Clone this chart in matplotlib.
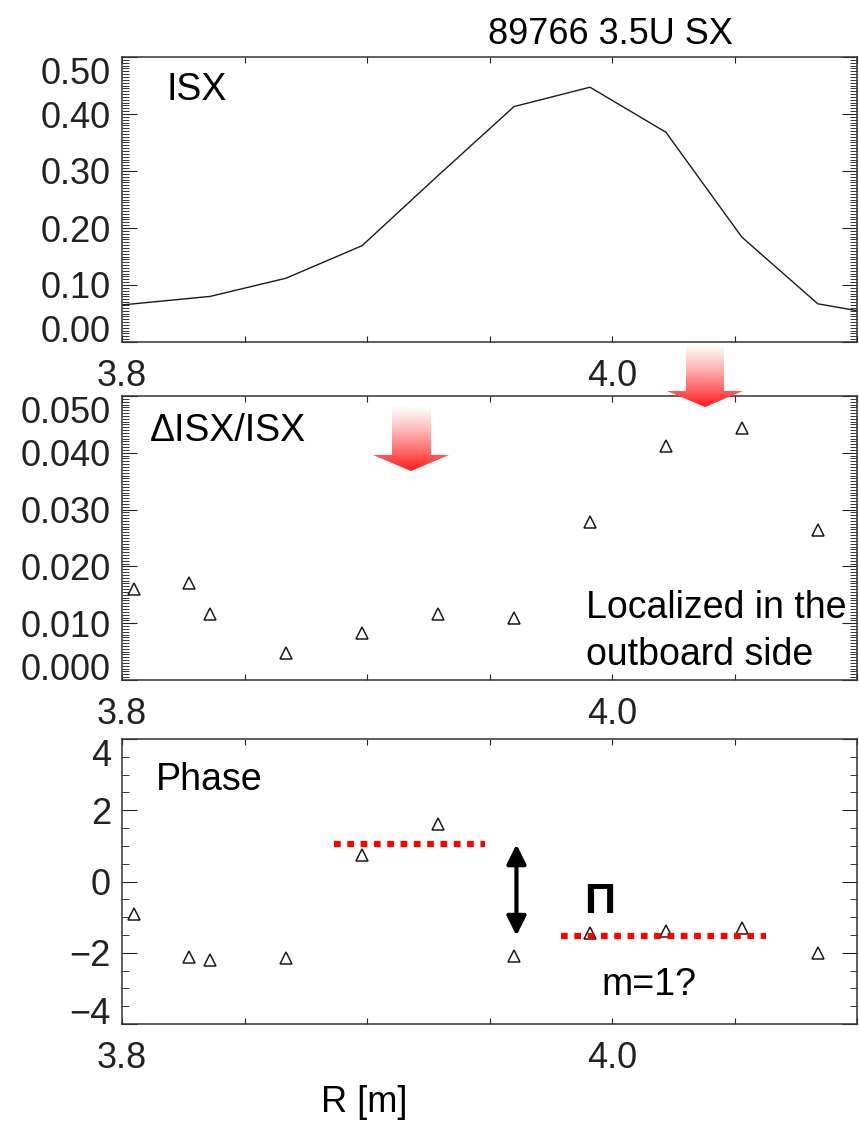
import numpy as np
import matplotlib
matplotlib.use('Agg')
import matplotlib.pyplot as plt
from matplotlib.ticker import FixedLocator, FixedFormatter, AutoMinorLocator
from matplotlib.patches import Polygon

plt.rcParams['font.family'] = ['Liberation Sans', 'DejaVu Sans']

# ISX profile (top panel, line)
r_isx = [3.800, 3.836, 3.867, 3.898, 3.929, 3.960, 3.991, 4.022, 4.053, 4.084, 4.100]
isx = [0.065, 0.080, 0.112, 0.169, 0.292, 0.413, 0.447, 0.368, 0.184, 0.067, 0.055]

# channels (middle / bottom panels, triangles)
r_ch = [3.805, 3.8275, 3.836, 3.867, 3.898, 3.929, 3.960, 3.991, 4.022, 4.053, 4.084]
disx = [0.0160, 0.0171, 0.0116, 0.0048, 0.0082, 0.0116, 0.0109, 0.0278, 0.0412, 0.0443, 0.0264]
phase = [-0.91, -2.13, -2.19, -2.16, 0.73, 1.62, -2.08, -1.44, -1.39, -1.30, -2.01]

# axes ticks
xticks = [3.80, 3.85, 3.90, 3.95, 4.00, 4.05, 4.10]
xticklabels = ['3.8', '', '', '', '4.0', '', '']
yticks_isx = [0.0, 0.1, 0.2, 0.3, 0.4, 0.5]
yticks_disx = [0.0, 0.01, 0.02, 0.03, 0.04, 0.05]
yticks_phase = [-4, -2, 0, 2, 4]

# red dotted phase levels (annotation)
level_x = [(3.8865, 3.948), (3.979, 4.063)]
level_y = [1.04, -1.52]

W, H = 859, 1125
fig = plt.figure(figsize=(W / 100, H / 100), dpi=100)


def box(top, bottom):
    return [122 / W, 1 - bottom / H, 735 / W, (bottom - top) / H]


def style(ax, yt, ylabels, nminor):
    ax.set_xlim(3.8, 4.1)
    ax.set_ylim(yt[0], yt[-1])
    ax.xaxis.set_major_locator(FixedLocator(xticks))
    ax.xaxis.set_major_formatter(FixedFormatter(xticklabels))
    ax.yaxis.set_major_locator(FixedLocator(yt))
    ax.yaxis.set_major_formatter(FixedFormatter(ylabels))
    ax.yaxis.set_minor_locator(AutoMinorLocator(nminor))
    ax.tick_params(axis='x', direction='in', top=True, length=4, width=0.8,
                   pad=12, labelsize=26, colors='#222222')
    ax.tick_params(axis='y', which='major', direction='in', right=True, length=11,
                   width=0.8, pad=8, labelsize=26, colors='#222222')
    ax.tick_params(axis='y', which='minor', direction='in', right=True, length=5,
                   width=0.7, colors='#333333')
    for s in ax.spines.values():
        s.set_linewidth(1.1)
        s.set_color('#333333')
    # end labels pushed inside the range, as in the original
    ticks = ax.yaxis.get_major_ticks()
    ticks[0].label1.set_va('baseline')
    ticks[-1].label1.set_va('top')


ax1 = fig.add_axes(box(57, 342))
ax2 = fig.add_axes(box(396, 680))
ax3 = fig.add_axes(box(739, 1024))

ax1.plot(r_isx, isx, color='#1a1a1a', lw=1.0)
style(ax1, yticks_isx, ['%.2f' % v for v in yticks_isx], 20)
ax1.text(0.061, 0.947, 'ISX', transform=ax1.transAxes, fontsize=27, va='top')

ax2.plot(r_ch, disx, linestyle='none', marker='^', ms=8, mfc='none', mec='#1a1a1a', mew=1.1)
style(ax2, yticks_disx, ['%.3f' % v for v in yticks_disx], 20)
ax2.text(0.038, 0.940, '\u0394ISX/ISX', transform=ax2.transAxes, fontsize=27, va='top')
ax2.text(0.631, 0.218, 'Localized in the', transform=ax2.transAxes, fontsize=27, va='baseline')
ax2.text(0.631, 0.053, 'outboard side', transform=ax2.transAxes, fontsize=27, va='baseline')

ax3.plot(r_ch, phase, linestyle='none', marker='^', ms=8, mfc='none', mec='#1a1a1a', mew=1.1)
style(ax3, yticks_phase, ['\u22124', '\u22122', '0', '2', '4'], 4)
ax3.text(0.046, 0.919, 'Phase', transform=ax3.transAxes, fontsize=27, va='top')
for (x0, x1), y in zip(level_x, level_y):
    ax3.plot([x0, x1], [y, y], color='#ff0000', lw=4.5, linestyle=(0, (1.07, 1.06)),
             dash_capstyle='butt', zorder=3)
ax3.annotate('', xy=(3.961, level_y[1]), xytext=(3.961, level_y[0]),
             arrowprops=dict(arrowstyle='<|-|>,head_length=0.4,head_width=0.2',
                             color='black', lw=3, mutation_scale=29, shrinkA=0, shrinkB=0))
ax3.text(0.6286, 0.389, '\u03a0', transform=ax3.transAxes, fontsize=31,
         fontweight='bold', va='baseline')
ax3.text(0.653, 0.102, 'm=1?', transform=ax3.transAxes, fontsize=27, va='baseline')

fig.text(488 / W, 1 - 17 / H, '89766 3.5U SX', fontsize=26, va='top', ha='left')
fig.text(364 / W, 1 - 1103 / H, 'R [m]', fontsize=26, va='center', ha='center')

# big red gradient arrows, in figure pixels (x, from top)
# shaft x0, x1, top, head base, head x0, x1, tip x, tip y
big_arrows = [(392, 431, 405, 455, 373, 449, 411, 471),
              (686, 724, 343, 391, 667, 743, 705, 407)]
ov = fig.add_axes([0, 0, 1, 1], zorder=10)
ov.axis('off')
ov.patch.set_alpha(0)
g = np.linspace(0, 1, 256)
cols = np.ones((256, 1, 3))
cols[:, 0, 1] = 1 - 0.9 * g ** 1.2
cols[:, 0, 2] = 1 - 0.9 * g ** 1.2
for sx0, sx1, top, base, hx0, hx1, tipx, tipy in big_arrows:
    poly = Polygon([(sx0, top), (sx1, top), (sx1, base), (hx1, base), (tipx, tipy),
                    (hx0, base), (sx0, base)], closed=True, facecolor='none',
                   edgecolor='none', transform=ov.transData)
    ov.add_patch(poly)
    im = ov.imshow(cols, extent=(hx0, hx1, tipy, top), aspect='auto', interpolation='bilinear')
    im.set_clip_path(poly)
ov.set_xlim(0, W)
ov.set_ylim(H, 0)

fig.savefig('out.png', dpi=100)
